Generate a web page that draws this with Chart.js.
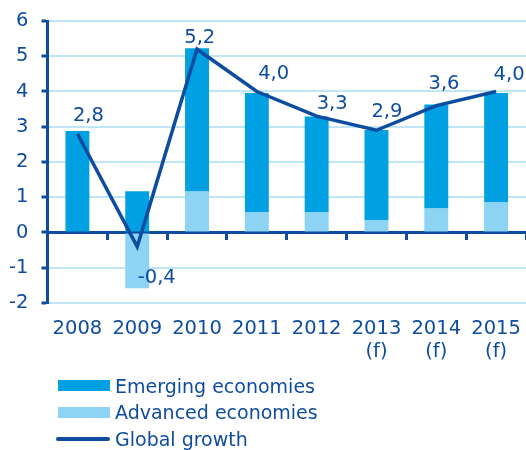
<!DOCTYPE html>
<html>
<head>
<meta charset="utf-8">
<script src="https://cdn.jsdelivr.net/npm/chart.js@4.4.1/dist/chart.umd.min.js"></script>
<style>
    body { margin: 0; background: #ffffff; }
    #wrap { position: relative; width: 526px; height: 450px; overflow: hidden; }
    #chart-box { position: absolute; left: 0; top: 0; width: 526px; height: 377px; }
    #legend { position: absolute; left: 58px; top: 372.5px; font: 19px 'DejaVu Sans'; color: #0f4c9e; }
    .legend-item { height: 26.5px; display: flex; align-items: center; white-space: nowrap; }
    .legend-swatch { width: 52px; height: 11px; margin-right: 5px; }
    .legend-swatch.line { width: 54px; height: 4.5px; margin-left: -2px; border-radius: 2.5px; }
</style>
</head>
<body>
<div id="wrap">
    <div id="chart-box"><canvas id="growth-chart"></canvas></div>
    <div id="legend"></div>
</div>
<script>
// Chart data (% growth)
const years = ['2008', '2009', '2010', '2011', '2012', ['2013', '(f)'], ['2014', '(f)'], ['2015', '(f)']];
const advancedEconomies = [0, -1.58, 1.16, 0.57, 0.57, 0.34, 0.68, 0.85];
const emergingEconomies = [2.88, 1.17, 4.07, 3.39, 2.72, 2.57, 2.95, 3.11];
const globalGrowth = [2.8, -0.4, 5.2, 4.0, 3.3, 2.9, 3.6, 4.0];
const yMin = -2;
const yMax = 6;

// Colours
const darkBlue = '#0d4c9f';
const emergingColor = '#00a0e3';
const advancedColor = '#8dd3f3';
const gridColor = '#bfe5f6';
const font = { family: 'DejaVu Sans', size: 19.5, lineHeight: 1.18 };

// Value labels next to the global growth line
const growthLabels = {
    id: 'growthLabels',
    afterDatasetsDraw(chart, args, opts) {
        const meta = chart.getDatasetMeta(opts.datasetIndex);
        const values = chart.data.datasets[opts.datasetIndex].data;
        const ctx = chart.ctx;
        ctx.save();
        ctx.font = font.size + 'px ' + font.family;
        ctx.fillStyle = darkBlue;
        ctx.textAlign = 'center';
        ctx.textBaseline = 'alphabetic';
        meta.data.forEach(function(pt, i) {
            const off = opts.offsets[i];
            ctx.fillText(values[i].toFixed(1).replace('.', ','), pt.x + off[0], pt.y + off[1]);
        });
        ctx.restore();
    }
};

// keep tick labels from adding padding around the plot area
function noPadding(scale) {
    scale.paddingLeft = 0;
    scale.paddingRight = 0;
    scale.paddingTop = 0;
    scale.paddingBottom = 0;
}

const ctx = document.getElementById('growth-chart');
const chart = new Chart(ctx, {
    type: 'bar',
    data: {
        labels: years,
        datasets: [{
            type: 'line',
            label: 'Global growth',
            data: globalGrowth,
            borderColor: darkBlue,
            backgroundColor: darkBlue,
            borderWidth: 3.5,
            pointRadius: 0,
            tension: 0,
            order: 0
        }, {
            label: 'Advanced economies',
            data: advancedEconomies,
            backgroundColor: advancedColor,
            order: 1
        }, {
            label: 'Emerging economies',
            data: emergingEconomies,
            backgroundColor: emergingColor,
            order: 1
        }]
    },
    options: {
        responsive: true,
        maintainAspectRatio: false,
        animation: false,
        datasets: {
            bar: { categoryPercentage: 1, barPercentage: 0.4 }
        },
        layout: { padding: { left: 0, top: 21, right: 0, bottom: 0 } },
        plugins: {
            legend: { display: false },
            tooltip: { enabled: false },
            growthLabels: {
                datasetIndex: 0,
                offsets: [[11, -12.8], [19.5, 36], [2.7, -6], [16.8, -12.5], [15.5, -7], [10.5, -13.6], [7.7, -16.3], [13, -11.5]]
            }
        },
        scales: {
            x: {
                stacked: true,
                afterFit: noPadding,
                grid: { display: false, drawTicks: false },
                border: { display: false },
                ticks: { color: darkBlue, font: font, padding: 14, maxRotation: 0, autoSkip: false }
            },
            // zero line with small tick marks between the years
            zero: {
                axis: 'x',
                type: 'category',
                position: { y: 0 },
                z: 1,
                grid: { drawOnChartArea: false, tickLength: 6, tickColor: darkBlue, tickWidth: 3 },
                border: { color: darkBlue, width: 3 },
                ticks: { display: false }
            },
            y: {
                stacked: true,
                min: yMin,
                max: yMax,
                afterFit: function(scale) {
                    noPadding(scale);
                    scale.width = 47.5;
                },
                ticks: {
                    stepSize: 1,
                    color: darkBlue,
                    font: font,
                    padding: 13,
                    callback: function(value) { return String(value); }
                },
                grid: { color: gridColor, lineWidth: 2, tickLength: 6, tickColor: darkBlue, tickWidth: 3 },
                border: { color: darkBlue, width: 3 }
            }
        }
    },
    plugins: [growthLabels]
});

// Legend: emerging, advanced, global
const legend = document.getElementById('legend');
[2, 1, 0].forEach(function(i) {
    const ds = chart.data.datasets[i];
    const item = document.createElement('div');
    item.className = 'legend-item';
    const swatch = document.createElement('span');
    swatch.className = 'legend-swatch' + (ds.type === 'line' ? ' line' : '');
    swatch.style.background = ds.type === 'line' ? ds.borderColor : ds.backgroundColor;
    item.appendChild(swatch);
    item.appendChild(document.createTextNode(ds.label));
    legend.appendChild(item);
});
</script>
</body>
</html>
